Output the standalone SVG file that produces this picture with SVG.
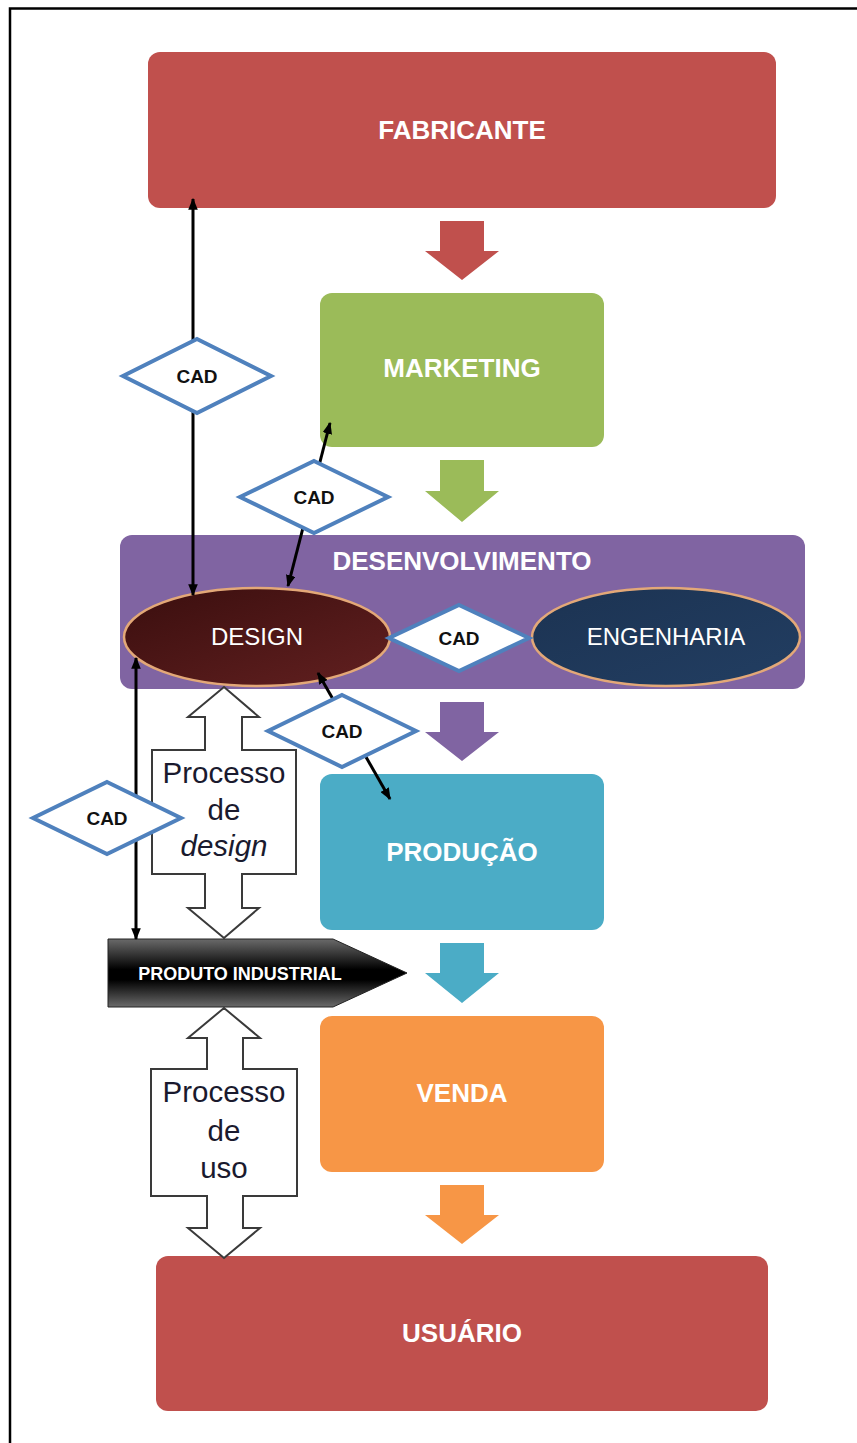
<svg xmlns="http://www.w3.org/2000/svg" width="857" height="1443" viewBox="0 0 857 1443">
  <defs>
    <style>
      .box-label { font-family: "Liberation Sans", Arial, sans-serif; font-weight: bold; font-size: 26px; fill: #ffffff; text-anchor: middle; }
      .oval-label { font-family: "Liberation Sans", Arial, sans-serif; font-size: 24px; fill: #ffffff; text-anchor: middle; }
      .cad { fill: #ffffff; stroke: #4F81BD; stroke-width: 4; stroke-linejoin: miter; }
      .cad-label { font-family: "Liberation Sans", Arial, sans-serif; font-weight: bold; font-size: 19px; fill: #111111; text-anchor: middle; }
      .flow { stroke: none; }
      .block { fill: #ffffff; stroke: #3a3a3a; stroke-width: 2; stroke-linejoin: miter; }
      .proc-label { font-family: "Liberation Sans", Arial, sans-serif; font-size: 29.5px; fill: #1a1a2e; text-anchor: middle; }
      .link { stroke: #000000; stroke-width: 3; fill: none; marker-start: url(#tip); marker-end: url(#tip); }
      .oval-rim { stroke: #E3A878; stroke-width: 2.5; }
    </style>
    <marker id="tip" viewBox="0 0 10 8" refX="9" refY="4" markerWidth="12" markerHeight="10" markerUnits="userSpaceOnUse" orient="auto-start-reverse">
      <path d="M0,0 L10,4 L0,8 z" fill="#000000"/>
    </marker>
    <linearGradient id="designFill" x1="0" y1="0" x2="1" y2="1">
      <stop offset="0" stop-color="#3A0E0E"/>
      <stop offset="1" stop-color="#622020"/>
    </linearGradient>
    <linearGradient id="engFill" x1="0" y1="0" x2="1" y2="1">
      <stop offset="0" stop-color="#1C3352"/>
      <stop offset="1" stop-color="#223E62"/>
    </linearGradient>
    <linearGradient id="productFill" x1="0" y1="0" x2="0" y2="1">
      <stop offset="0" stop-color="#6a6a6a"/>
      <stop offset="0.45" stop-color="#000000"/>
      <stop offset="0.6" stop-color="#000000"/>
      <stop offset="1" stop-color="#6a6a6a"/>
    </linearGradient>
  </defs>

  <rect x="0" y="0" width="857" height="1443" fill="#ffffff"/>
  <!-- frame (top and left edges only) -->
  <path d="M10,1443 L10,8.5 L857,8.5" fill="none" stroke="#000000" stroke-width="2.5"/>

  <!-- main chain -->
  <g id="fabricante">
    <rect x="148" y="52" width="628" height="156" rx="12" fill="#C0504D"/>
    <text class="box-label" x="462" y="139">FABRICANTE</text>
  </g>
  <g id="seta-fabricante" class="flow">
    <polygon points="440,221 484,221 484,251 499,251 462,280 425,251 440,251" fill="#C0504D"/>
  </g>

  <g id="marketing">
    <rect x="320" y="293" width="284" height="154" rx="12" fill="#9BBB59"/>
    <text class="box-label" x="462" y="377">MARKETING</text>
  </g>
  <g id="seta-marketing" class="flow">
    <polygon points="440,460 484,460 484,491 499,491 462,522 425,491 440,491" fill="#9BBB59"/>
  </g>

  <g id="desenvolvimento">
    <rect x="120" y="535" width="685" height="154" rx="12" fill="#8064A2"/>
    <text class="box-label" x="462" y="570">DESENVOLVIMENTO</text>
  </g>
  <g id="design">
    <ellipse class="oval-rim" cx="257" cy="637" rx="133" ry="49" fill="url(#designFill)"/>
    <text class="oval-label" x="257" y="645">DESIGN</text>
  </g>
  <g id="engenharia">
    <ellipse class="oval-rim" cx="666" cy="637" rx="134" ry="49" fill="url(#engFill)"/>
    <text class="oval-label" x="666" y="645">ENGENHARIA</text>
  </g>
  <g id="seta-desenvolvimento" class="flow">
    <polygon points="440,702 484,702 484,732 499,732 462,761 425,732 440,732" fill="#8064A2"/>
  </g>

  <g id="producao">
    <rect x="320" y="774" width="284" height="156" rx="12" fill="#4BACC6"/>
    <text class="box-label" x="462" y="861">PRODUÇÃO</text>
  </g>
  <g id="seta-producao" class="flow">
    <polygon points="440,943 484,943 484,973 499,973 462,1003 425,973 440,973" fill="#4BACC6"/>
  </g>

  <g id="venda">
    <rect x="320" y="1016" width="284" height="156" rx="12" fill="#F79646"/>
    <text class="box-label" x="462" y="1102">VENDA</text>
  </g>
  <g id="seta-venda" class="flow">
    <polygon points="440,1185 484,1185 484,1215 499,1215 462,1244 425,1215 440,1215" fill="#F79646"/>
  </g>

  <g id="usuario">
    <rect x="156" y="1256" width="612" height="155" rx="12" fill="#C0504D"/>
    <text class="box-label" x="462" y="1342">USUÁRIO</text>
  </g>

  <!-- process block arrows -->
  <g id="processo-design">
    <polygon class="block" points="224,687 259,717 242,717 242,750 296,750 296,874 242,874 242,908 259,908 224,938 188,908 205,908 205,874 152,874 152,750 205,750 205,717 188,717"/>
    <text class="proc-label" x="224" y="783">Processo</text>
    <text class="proc-label" x="224" y="820">de</text>
    <text class="proc-label" x="224" y="856" font-style="italic">design</text>
  </g>
  <g id="processo-uso">
    <polygon class="block" points="224,1008 260,1038 243,1038 243,1069 297,1069 297,1196 243,1196 243,1228 260,1228 224,1258 188,1228 207,1228 207,1196 151,1196 151,1069 207,1069 207,1038 188,1038"/>
    <text class="proc-label" x="224" y="1102">Processo</text>
    <text class="proc-label" x="224" y="1141">de</text>
    <text class="proc-label" x="224" y="1178">uso</text>
  </g>

  <g id="produto-industrial">
    <polygon points="108,939 333,939 407,973 333,1007 108,1007" fill="url(#productFill)" stroke="#222222" stroke-width="1"/>
    <text x="240" y="980" font-family="'Liberation Sans', Arial, sans-serif" font-weight="bold" font-size="18" fill="#ffffff" text-anchor="middle">PRODUTO INDUSTRIAL</text>
  </g>

  <!-- CAD links -->
  <g id="conectores">
    <line class="link" x1="193" y1="595" x2="193" y2="199"/>
    <line class="link" x1="288" y1="586" x2="330" y2="423"/>
    <line class="link" x1="318" y1="673" x2="390" y2="799"/>
    <line class="link" x1="136" y1="658" x2="136" y2="939"/>
  </g>

  <!-- CAD decision diamonds -->
  <g id="cad-fabricante">
    <polygon class="cad" points="197,339 271,376 197,413 123,376"/>
    <text class="cad-label" x="197" y="383">CAD</text>
  </g>
  <g id="cad-marketing">
    <polygon class="cad" points="314,461 388,497 314,533 240,497"/>
    <text class="cad-label" x="314" y="504">CAD</text>
  </g>
  <g id="cad-engenharia">
    <polygon class="cad" points="459,605 529,638 459,671 389,638"/>
    <text class="cad-label" x="459" y="645">CAD</text>
  </g>
  <g id="cad-producao">
    <polygon class="cad" points="342,695 416,731 342,767 268,731"/>
    <text class="cad-label" x="342" y="738">CAD</text>
  </g>
  <g id="cad-produto">
    <polygon class="cad" points="107,782 181,818 107,854 33,818"/>
    <text class="cad-label" x="107" y="825">CAD</text>
  </g>
</svg>
